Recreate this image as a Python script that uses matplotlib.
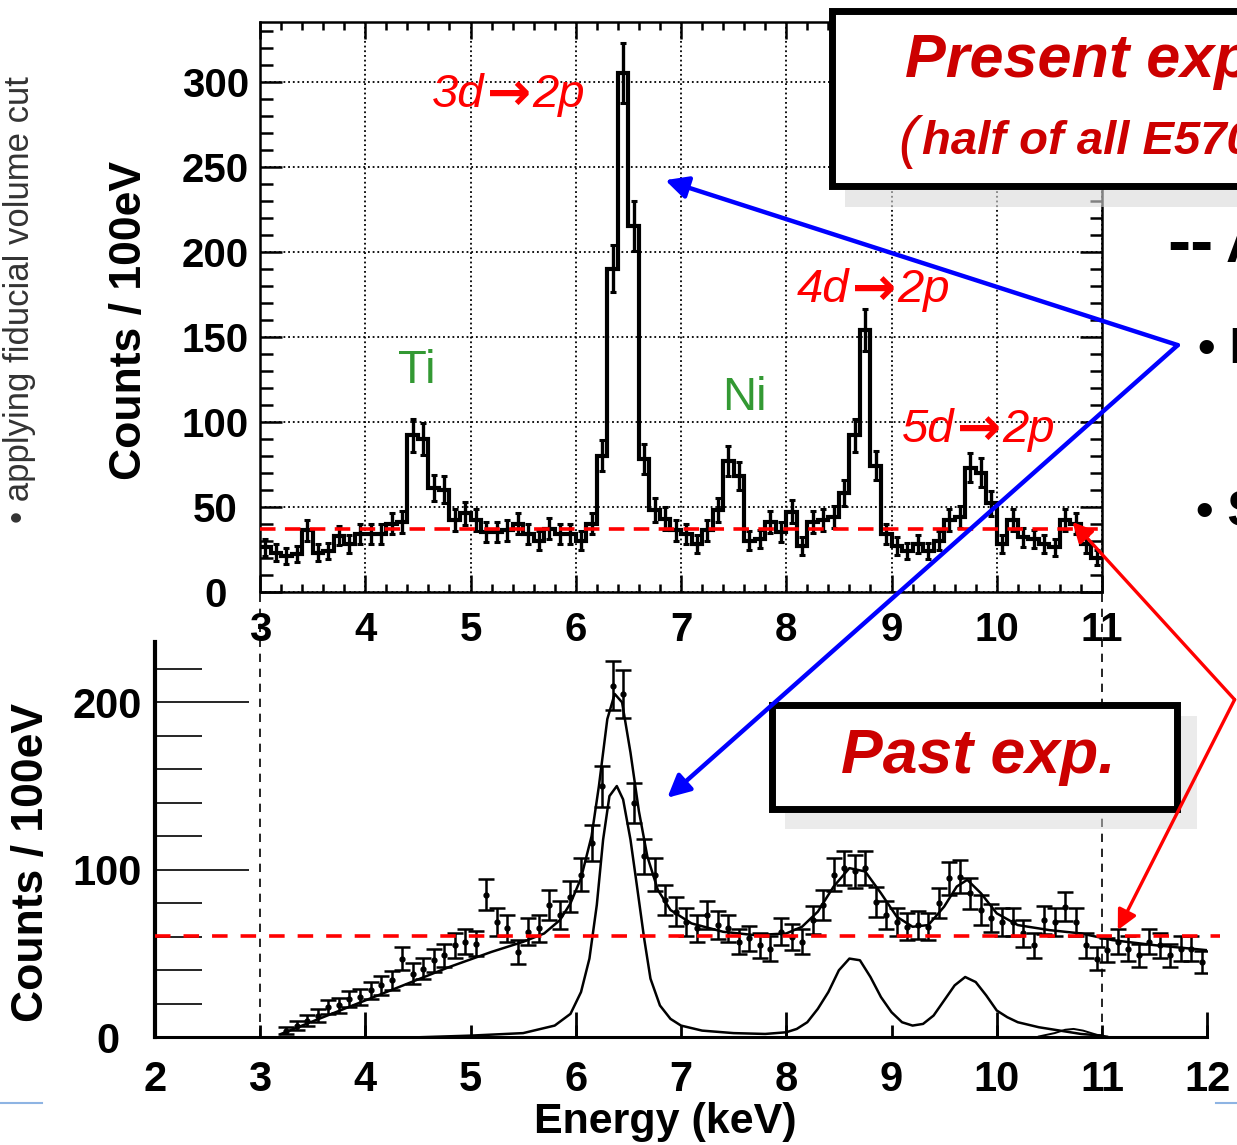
import numpy as np
import matplotlib
matplotlib.use('Agg')
import matplotlib.pyplot as plt
from matplotlib.patches import Rectangle, ConnectionPatch
from matplotlib.lines import Line2D
from matplotlib.ticker import MultipleLocator

plt.rcParams['font.family'] = ['Liberation Sans', 'DejaVu Sans']

# ---------------- data ----------------
# present experiment: counts per 100 eV, bins starting at 3.0 keV
bin_start = 3.0
bin_width = 0.1
top_counts = [26, 23, 21, 22, 36, 23, 24, 33, 28, 34, 34, 34, 40, 41, 92, 90, 61, 60, 42, 46,
              42, 35, 35, 36, 40, 34, 30, 37, 34, 34, 30, 40, 80, 190, 305, 215, 78, 48, 43, 36,
              34, 28, 36, 48, 77, 68, 30, 31, 41, 35, 47, 27, 41, 42, 44, 58, 92, 154, 74, 34,
              27, 24, 28, 24, 30, 42, 44, 73, 70, 52, 28, 42, 32, 31, 28, 26, 42, 40, 28, 20]
top_bg = 37

# past experiment: data points
past_e = [3.25, 3.35, 3.45, 3.55, 3.65, 3.75, 3.85, 3.95, 4.05, 4.15, 4.25, 4.35, 4.45, 4.55,
          4.65, 4.75, 4.85, 4.95, 5.05, 5.15, 5.25, 5.35, 5.45, 5.55, 5.65, 5.75, 5.85, 5.95,
          6.05, 6.15, 6.25, 6.35, 6.45, 6.55, 6.65, 6.75, 6.85, 6.95, 7.05, 7.15, 7.25, 7.35,
          7.45, 7.55, 7.65, 7.75, 7.85, 7.95, 8.05, 8.15, 8.25, 8.35, 8.45, 8.55, 8.65, 8.75,
          8.85, 8.95, 9.05, 9.15, 9.25, 9.35, 9.45, 9.55, 9.65, 9.75, 9.85, 9.95, 10.05, 10.15,
          10.25, 10.35, 10.45, 10.55, 10.65, 10.75, 10.85, 10.95, 11.05, 11.15, 11.25, 11.35,
          11.45, 11.55, 11.65, 11.75, 11.85, 11.95]
past_c = [4, 7, 10, 13, 18, 19, 23, 24, 28, 31, 34, 47, 38, 41,
          46, 49, 55, 57, 56, 85, 69, 65, 51, 63, 65, 79, 73, 84,
          97, 116, 150, 210, 205, 140, 108, 97, 82, 75, 69, 65, 73, 67,
          65, 57, 59, 55, 53, 63, 60, 57, 70, 79, 97, 101, 99, 101,
          81, 73, 69, 66, 67, 66, 80, 95, 96, 86, 76, 71, 69, 69,
          62, 55, 70, 69, 78, 69, 55, 47, 52, 57, 53, 49,
          57, 55, 49, 53, 53, 45]

fit_e = [3.2, 3.6, 4.0, 4.4, 4.8, 5.2, 5.5, 5.7, 5.85, 5.95, 6.05, 6.15, 6.22, 6.3, 6.37,
         6.44, 6.52, 6.6, 6.68, 6.78, 6.9, 7.1, 7.4, 7.7, 8.0, 8.15, 8.3, 8.45, 8.6, 8.75,
         8.9, 9.05, 9.2, 9.35, 9.5, 9.62, 9.72, 9.85, 10.0, 10.2, 10.5, 10.8, 11.1, 11.5, 12.0]
fit_c = [2, 12, 22, 32, 42, 51, 57, 62, 70, 80, 95, 120, 150, 190, 205,
         200, 170, 135, 108, 88, 76, 68, 63, 61, 62, 66, 75, 90, 101, 99,
         86, 72, 66, 67, 78, 90, 94, 86, 74, 67, 64, 62, 58, 55, 52]

# past experiment: kaonic-helium line components
comp_e = [4.5, 5.0, 5.5, 5.8, 5.95, 6.05, 6.13, 6.2, 6.26, 6.32, 6.39, 6.45, 6.52, 6.58,
          6.65, 6.71, 6.8, 6.9, 7.0, 7.2, 7.5, 7.8, 8.0, 8.1, 8.2, 8.3, 8.4, 8.5, 8.6, 8.7,
          8.8, 8.9, 9.0, 9.1, 9.2, 9.3, 9.4, 9.5, 9.6, 9.7, 9.8, 9.9, 10.0, 10.1, 10.2,
          10.4, 10.6, 10.8, 11.0]
comp_c = [0, 1, 2.5, 7, 14, 27, 47, 79, 118, 144, 150, 142, 118, 91,
          59, 35, 19, 11, 7, 4, 2.5, 2, 3, 5, 9, 17, 27, 40, 47, 46,
          36, 24, 15, 9, 7, 8, 13, 22, 31, 36, 33, 25, 16, 12, 9,
          6, 4, 2, 1]
bump_e = [10.4, 10.55, 10.65, 10.73, 10.82, 10.95, 11.05]
bump_c = [0.5, 2.5, 4.5, 5, 4, 1.5, 0.5]
past_bg = 60.5

top_xticks = [3, 4, 5, 6, 7, 8, 9, 10, 11]
top_yticks = [0, 50, 100, 150, 200, 250, 300]
bot_xticks = [2, 3, 4, 5, 6, 7, 8, 9, 10, 11, 12]
bot_yticks = [0, 100, 200]

# transition labels: (upper level, x of label start px, y centre px)
transitions = [('3d', 432, 95), ('4d', 797, 290), ('5d', 902, 430)]

# ---------------- layout helpers (pixel -> figure fraction) ----------------
W, H = 1237, 1145


def fx(x):
    return x / W


def fy(y):
    return 1 - y / H


RED_TXT = '#cc0000'
GREEN = '#339933'

fig = plt.figure(figsize=(W / 100, H / 100), dpi=100)
fig.patch.set_facecolor('white')

# ---------------- top: present experiment ----------------
ax1 = fig.add_axes([fx(260), fy(591.7), (1102 - 260) / W, (591.7 - 22) / H])
edges = bin_start + bin_width * np.arange(len(top_counts) + 1)
centers = edges[:-1] + bin_width / 2
ax1.stairs(top_counts, edges, baseline=None, color='k', lw=3.0, zorder=3)
ax1.errorbar(centers, top_counts, yerr=np.sqrt(top_counts), fmt='none', ecolor='k',
             elinewidth=2.4, capsize=2.5, capthick=2.2, zorder=3)
ax1.set_xlim(3, 11)
ax1.set_ylim(0, 335)
ax1.set_axisbelow(True)
ax1.grid(True, which='major', ls=(0, (1, 1.6)), color='k', lw=1.3)
ax1.set_xticks(top_xticks)
ax1.set_xticklabels([str(v) for v in top_xticks], fontsize=29, fontweight='bold')
ax1.set_yticks(top_yticks)
ax1.set_yticklabels([str(v) for v in top_yticks], fontsize=29, fontweight='bold', ha='center')
ax1.xaxis.set_minor_locator(MultipleLocator(0.2))
ax1.yaxis.set_minor_locator(MultipleLocator(10))
ax1.tick_params(which='both', direction='in', top=True, right=True, width=1.8)
ax1.tick_params(axis='x', which='major', length=12, pad=14)
ax1.tick_params(axis='x', which='minor', length=6)
ax1.tick_params(axis='y', which='major', length=16, pad=32)
ax1.tick_params(axis='y', which='minor', length=9)
for s in ax1.spines.values():
    s.set_linewidth(1.8)
ax1.axhline(top_bg, xmin=0, xmax=1.005, color='#ff0000', lw=2.6,
            ls=(0, (4.3, 2.6)), clip_on=False, zorder=4)

ax1.text(4.31, 130, 'Ti', color=GREEN, fontsize=34, va='center')
ax1.text(7.39, 114, 'Ni', color=GREEN, fontsize=34, va='center')

for lvl, x0, yc in transitions:
    fig.text(fx(x0), fy(yc), lvl, color='#ff0000', fontsize=34, style='italic',
             va='center', ha='left')
    fig.text(fx(x0 + 55), fy(yc), '\u2192', color='#ff0000', fontsize=38, fontweight='bold',
             family=['DejaVu Sans'], va='center', ha='left')
    fig.text(fx(x0 + 100), fy(yc), '2p', color='#ff0000', fontsize=34, style='italic',
             va='center', ha='left')

# ---------------- bottom: past experiment ----------------
ax2 = fig.add_axes([fx(154.75), fy(1037.3), (1207.25 - 154.75) / W, (1037.3 - 642) / H])
ax2.errorbar(past_e, past_c, yerr=np.sqrt(past_c), fmt='o', ms=3.5, color='k',
             elinewidth=1.8, capsize=6, capthick=1.8, zorder=3)
ax2.plot(fit_e, fit_c, color='k', lw=1.8, zorder=3)
ax2.plot(comp_e, comp_c, color='k', lw=1.8, zorder=3)
ax2.plot(bump_e, bump_c, color='k', lw=1.4, zorder=3)
ax2.set_xlim(2, 12)
ax2.set_ylim(0, 236)
ax2.spines['top'].set_visible(False)
ax2.spines['right'].set_visible(False)
ax2.spines['left'].set_linewidth(3)
ax2.spines['bottom'].set_linewidth(2.2)
ax2.xaxis.remove_overlapping_locs = False
ax2.set_xticks(bot_xticks)
ax2.set_xticklabels([str(v) for v in bot_xticks], fontsize=30, fontweight='bold')
ax2.set_xticks(bot_xticks[::2], minor=True)
ax2.set_yticks(bot_yticks)
ax2.set_yticklabels([str(v) for v in bot_yticks], fontsize=30, fontweight='bold', ha='center')
ax2.yaxis.set_minor_locator(MultipleLocator(20))
ax2.tick_params(which='both', direction='in')
ax2.tick_params(axis='x', which='major', length=9, width=2, pad=16)
ax2.tick_params(axis='x', which='minor', length=18, width=2)
ax2.tick_params(axis='y', which='major', length=68, width=1.2, pad=34)
ax2.tick_params(axis='y', which='minor', length=34, width=1.2)
ax2.axhline(past_bg, xmin=0, xmax=(1220 - 154.75) / 1052.5, color='#ff0000', lw=2.6,
            ls=(0, (4.3, 3.6)), clip_on=False, zorder=4)
for xv in (3, 11):
    ax2.axvline(xv, ymin=0, ymax=(1037.3 - 592) / (1037.3 - 642), color='k', lw=1.2,
                ls=(0, (5, 4)), clip_on=False, zorder=2)

# axis titles
fig.text(fx(130), fy(320), 'Counts / 100eV', rotation=90, fontsize=32, fontweight='bold',
         ha='center', va='center')
fig.text(fx(32), fy(862), 'Counts / 100eV', rotation=90, fontsize=32, fontweight='bold',
         ha='center', va='center')
fig.text(fx(665), fy(1122), 'Energy (keV)', fontsize=31, fontweight='bold',
         ha='center', va='center')
fig.text(fx(20), fy(300), '\u2022 applying fiducial volume cut', rotation=90, fontsize=25,
         family=['Liberation Sans Narrow', 'Liberation Sans', 'DejaVu Sans'],
         color='#333333', ha='center', va='center')

# ---------------- boxes ----------------
fig.add_artist(Rectangle((fx(845), fy(207)), fx(1300) - fx(845), (207 - 25) / H,
                         transform=fig.transFigure, facecolor='#d9d9d9', alpha=0.6,
                         edgecolor='none', zorder=5))
fig.add_artist(Rectangle((fx(831.5), fy(185.5)), fx(1300) - fx(831.5), (185.5 - 11) / H,
                         transform=fig.transFigure, facecolor='white', edgecolor='k',
                         lw=5, zorder=6))
fig.text(fx(905), fy(62), 'Present exp.', fontsize=44, fontweight='bold', style='italic',
         color=RED_TXT, va='center', ha='left', zorder=7)
fig.text(fx(898), fy(142), '(', fontsize=42, style='italic', color=RED_TXT,
         va='center', ha='left', zorder=7)
fig.text(fx(922), fy(142), 'half of all E570 data)', fontsize=34, fontweight='bold',
         style='italic', color=RED_TXT, va='center', ha='left', zorder=7)

fig.add_artist(Rectangle((fx(785), fy(829)), (1197 - 785) / W, (829 - 716) / H,
                         transform=fig.transFigure, facecolor='#d9d9d9', alpha=0.5,
                         edgecolor='none', zorder=5))
fig.add_artist(Rectangle((fx(771.5), fy(808.5)), (1176.5 - 771.5) / W, (808.5 - 704.5) / H,
                         transform=fig.transFigure, facecolor='white', edgecolor='k',
                         lw=5, zorder=6))
fig.text(fx(978), fy(757), 'Past exp.', fontsize=45, fontweight='bold', style='italic',
         color=RED_TXT, va='center', ha='center', zorder=7)

# slide text cut at the right edge
fig.text(fx(1167), fy(246), '--', fontsize=50, fontweight='bold', va='center', ha='left')
fig.text(fx(1226), fy(248), 'A', fontsize=40, fontweight='bold', va='center', ha='left')
fig.text(fx(1198), fy(350), '\u2022 I', fontsize=36, fontweight='bold', va='center', ha='left')
fig.text(fx(1196), fy(513), '\u2022 S', fontsize=36, fontweight='bold', va='center', ha='left')

# footer line pieces
fig.add_artist(Line2D([fx(0), fx(42)], [fy(1103), fy(1103)], color='#8eb4e3', lw=1.5))
fig.add_artist(Line2D([fx(1216), fx(1237)], [fy(1103), fy(1103)], color='#8eb4e3', lw=1.5))

# ---------------- arrows ----------------
blue_origin = (11.72, 145)
for xy, axis in [((6.85, 242), ax1), ((6.87, 143), ax2)]:
    con = ConnectionPatch(xyA=blue_origin, coordsA=ax1.transData, xyB=xy, coordsB=axis.transData,
                          arrowstyle='-|>', color='#0000ff', lw=3.2, mutation_scale=34,
                          shrinkA=0, shrinkB=0)
    con.set_zorder(8)
    fig.add_artist(con)

red_origin = (12.26, 201.6)
for xy, axis in [((10.72, 41), ax1), ((11.15, 64), ax2)]:
    con = ConnectionPatch(xyA=red_origin, coordsA=ax2.transData, xyB=xy, coordsB=axis.transData,
                          arrowstyle='-|>', color='#ff0000', lw=2.4, mutation_scale=30,
                          shrinkA=0, shrinkB=0)
    con.set_zorder(8)
    fig.add_artist(con)

fig.savefig('out.png', dpi=100)
